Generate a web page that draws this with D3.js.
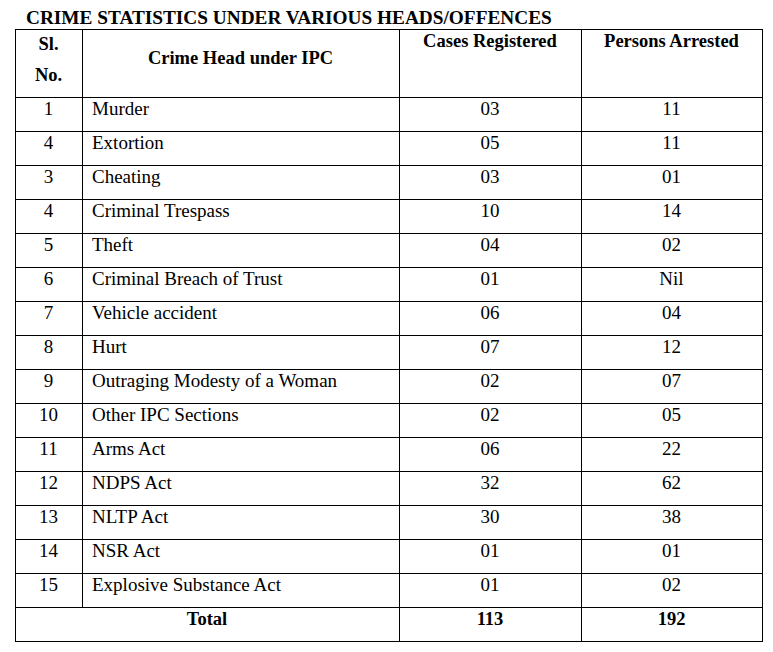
<!DOCTYPE html>
<html>
<head>
<meta charset="utf-8">
<script src="https://cdn.jsdelivr.net/npm/d3@7"></script>
<style>
  body { margin: 0; background: #fff; }
  svg text { font-family: "Liberation Serif", "Times New Roman", serif; fill: #000; }
</style>
</head>
<body>
<div id="chart"></div>
<script>
var title = "CRIME STATISTICS UNDER VARIOUS HEADS/OFFENCES";
var serials = ["1", "4", "3", "4", "5", "6", "7", "8", "9", "10", "11", "12", "13", "14", "15"];
var crimeHeads = ["Murder", "Extortion", "Cheating", "Criminal Trespass", "Theft",
    "Criminal Breach of Trust", "Vehicle accident", "Hurt", "Outraging Modesty of a Woman",
    "Other IPC Sections", "Arms Act", "NDPS Act", "NLTP Act", "NSR Act", "Explosive Substance Act"];
var casesRegistered = ["03", "05", "03", "10", "04", "01", "06", "07", "02", "02", "06", "32", "30", "01", "01"];
var personsArrested = ["11", "11", "01", "14", "02", "Nil", "04", "12", "07", "05", "22", "62", "38", "01", "02"];
var totals = ["113", "192"];

var W = 773, H = 652;
var colEdges = [15, 82, 399, 581, 762];
var headTop = 29, headBottom = 97, rowH = 34;
var nRows = serials.length + 1; // plus total

var y = d3.scaleLinear().domain([0, nRows]).range([headBottom, headBottom + nRows * rowH]);

var svg = d3.select("#chart").append("svg")
    .attr("width", W)
    .attr("height", H);

svg.append("text")
    .attr("x", 26)
    .attr("y", 24)
    .attr("font-size", 19.3)
    .attr("font-weight", "bold")
    .text(title);

var lines = svg.append("g")
    .attr("stroke", "#000")
    .attr("stroke-width", 1)
    .attr("shape-rendering", "crispEdges");

function px(v) { return Math.round(v) + 0.5; }

// outer box
lines.append("rect")
    .attr("x", px(colEdges[0]))
    .attr("y", px(headTop))
    .attr("width", colEdges[4] - colEdges[0])
    .attr("height", y(nRows) - headTop)
    .attr("fill", "none");

// horizontal rules
lines.selectAll("line.h")
    .data(d3.range(0, nRows))
  .enter().append("line")
    .attr("class", "h")
    .attr("x1", colEdges[0]).attr("x2", colEdges[4])
    .attr("y1", function(d) { return px(y(d)); })
    .attr("y2", function(d) { return px(y(d)); });

// vertical rules (col 1 stops above total row)
[1, 2, 3].forEach(function(i) {
    lines.append("line")
        .attr("x1", px(colEdges[i])).attr("x2", px(colEdges[i]))
        .attr("y1", headTop)
        .attr("y2", i === 1 ? y(nRows - 1) : y(nRows));
});

function mid(i) { return (colEdges[i] + colEdges[i + 1]) / 2; }

// header
var head = svg.append("g").attr("font-weight", "bold").attr("font-size", 18.5).attr("text-anchor", "middle");
head.append("text").attr("x", mid(0)).attr("y", 50).text("Sl.");
head.append("text").attr("x", mid(0)).attr("y", 81).text("No.");
head.append("text").attr("x", mid(1)).attr("y", 64).text("Crime Head under IPC");
head.append("text").attr("x", mid(2)).attr("y", 47).text("Cases Registered");
head.append("text").attr("x", mid(3)).attr("y", 47).text("Persons Arrested");

// body rows
var rows = svg.append("g").attr("font-size", 19)
  .selectAll("g")
    .data(d3.range(serials.length))
  .enter().append("g")
    .attr("transform", function(i) { return "translate(0," + (y(i) + 18) + ")"; });

rows.append("text").attr("x", mid(0)).attr("text-anchor", "middle").text(function(i) { return serials[i]; });
rows.append("text").attr("x", colEdges[1] + 10).text(function(i) { return crimeHeads[i]; });
rows.append("text").attr("x", mid(2)).attr("text-anchor", "middle").text(function(i) { return casesRegistered[i]; });
rows.append("text").attr("x", mid(3)).attr("text-anchor", "middle").text(function(i) { return personsArrested[i]; });

// total row
var tot = svg.append("g").attr("font-size", 18.5).attr("font-weight", "bold").attr("text-anchor", "middle")
    .attr("transform", "translate(0," + (y(nRows - 1) + 18) + ")");
tot.append("text").attr("x", (colEdges[0] + colEdges[2]) / 2).text("Total");
tot.append("text").attr("x", mid(2)).text(totals[0]);
tot.append("text").attr("x", mid(3)).text(totals[1]);
</script>
</body>
</html>
